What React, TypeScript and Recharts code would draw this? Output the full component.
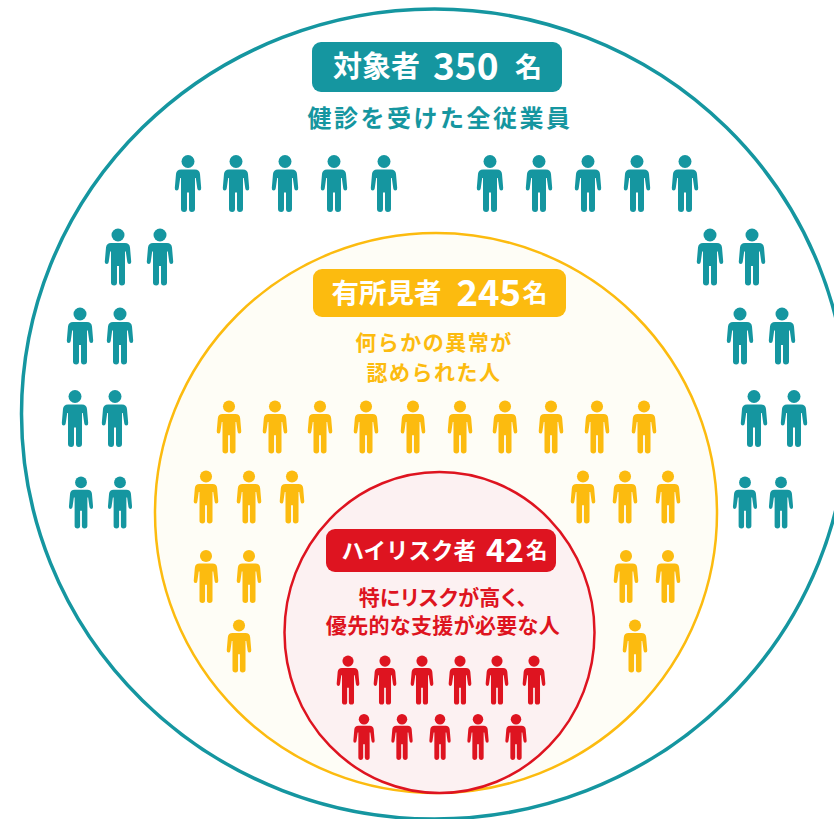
import { Scatter, ScatterChart, XAxis, YAxis } from "recharts";

const WIDTH = 834;
const HEIGHT = 819;
const FONT = '"Noto Sans CJK JP", "Noto Sans", sans-serif';

const outerRing = [{ x: 434.5, y: 414 }];
const middleRing = [{ x: 436, y: 513 }];
const innerRing = [{ x: 439.5, y: 632.5 }];

const row = (y: number, xs: number[]) => xs.map((x) => ({ x, y }));

const tealUpper = [
  ...row(183.5, [188, 236, 285, 334, 384, 490, 539, 588, 637, 685]),
  ...row(257, [118, 160, 710, 752]),
  ...row(336, [80, 120, 740, 782]),
  ...row(418.5, [75, 115, 754, 794]),
];
const tealLower = row(502.5, [81, 120, 745, 781]);
const yellowPeople = [
  ...row(427, [229, 275, 320, 366, 413, 460, 505, 551, 597, 644]),
  ...row(497, [206, 249, 292, 583, 625, 668]),
  ...row(576.5, [206, 249, 626, 668]),
  ...row(646, [239, 635]),
];
const redUpper = row(680, [348, 385, 422, 460, 497, 534]);
const redLower = row(737, [364, 402, 440, 478, 516]);

const tealTitle = ["対象者", "350", "名"];
const yellowTitle = ["有所見者", "245", "名"];
const redTitle = ["ハイリスク者", "42", "名"];
const tealNotes = ["健診を受けた全従業員"];
const yellowNotes = ["何らかの異常が", "認められた人"];
const redNotes = ["特にリスクが高く、", "優先的な支援が必要な人"];

const TEAL = "#1596a0";
const YELLOW = "#fcbb0f";
const RED = "#de1420";

const ringShape = (rx: number, ry: number, stroke: number, color: string, fill: string) => (p: any) => (
  <ellipse cx={p.cx} cy={p.cy} rx={rx} ry={ry} fill={fill} stroke={color} strokeWidth={stroke} />
);

const personShape = (h: number, color: string) => (p: any) => {
  const s = h / 57;
  return (
    <g transform={`translate(${p.cx},${p.cy - h / 2}) scale(${s})`} fill={color}>
      <circle cx={0} cy={6.5} r={6.5} />
      <path d="M-7 14.5L7 14.5Q11.5 14.5 12 19L13.2 33Q13.4 35.5 11.2 35.5Q9.6 35.5 9.3 33.5L7.8 23L7 23L7 54Q7 57 3.8 57Q1 57 1 54L1 37.5L-1 37.5L-1 54Q-1 57 -3.8 57Q-7 57 -7 54L-7 23L-7.8 23L-9.3 33.5Q-9.6 35.5 -11.2 35.5Q-13.4 35.5 -13.2 33L-12 19Q-11.5 14.5 -7 14.5Z" />
    </g>
  );
};

type TitleLayout = {
  w: number;
  h: number;
  color: string;
  parts: { dx: number; size: number; weight: number }[];
};

const titleShape = (texts: string[], l: TitleLayout) => (p: any) => (
  <g fontFamily={FONT}>
    <rect x={p.cx - l.w / 2} y={p.cy - l.h / 2} width={l.w} height={l.h} rx={9} fill={l.color} />
    {texts.map((t, i) => (
      <text
        key={t}
        x={p.cx + l.parts[i].dx}
        y={p.cy + l.parts[i].size * 0.36}
        fontSize={l.parts[i].size}
        fontWeight={l.parts[i].weight}
        fill="#fff"
      >
        {t}
      </text>
    ))}
  </g>
);

const notesShape =
  (texts: string[], color: string, size: number, gap: number, spacing: number, palt = false) =>
  (p: any) => (
    <g fontFamily={FONT}>
      {texts.map((t, i) => (
        <text
          key={t}
          x={p.cx}
          y={p.cy + i * gap + size * 0.36}
          fontSize={size}
          fontWeight={700}
          letterSpacing={spacing}
          textAnchor="middle"
          fill={color}
          style={palt && i === 0 ? { fontFeatureSettings: '"palt"' } : undefined}
        >
          {t}
        </text>
      ))}
    </g>
  );

const tealTitleAt = [{ x: 437, y: 67 }];
const yellowTitleAt = [{ x: 439.5, y: 293 }];
const redTitleAt = [{ x: 441, y: 550.5 }];
const tealNotesAt = [{ x: 440, y: 118 }];
const yellowNotesAt = [{ x: 434, y: 342 }];
const redNotesAt = [{ x: 443, y: 597 }];

export default function App() {
  return (
    <div style={{ position: "absolute", left: 0, top: 0, width: WIDTH, height: HEIGHT, background: "#fff" }}>
      <ScatterChart width={WIDTH} height={HEIGHT} margin={{ top: 0, right: 0, bottom: 0, left: 0 }}>
        <XAxis type="number" dataKey="x" domain={[0, WIDTH]} hide />
        <YAxis type="number" dataKey="y" domain={[0, HEIGHT]} reversed hide />
        <Scatter data={outerRing} isAnimationActive={false} shape={ringShape(413, 405, 3.5, TEAL, "#fff")} />
        <Scatter data={middleRing} isAnimationActive={false} shape={ringShape(281, 280, 2.5, YELLOW, "#fefdf6")} />
        <Scatter data={innerRing} isAnimationActive={false} shape={ringShape(155, 160.5, 2.5, RED, "#fcf1f2")} />
        <Scatter data={tealUpper} isAnimationActive={false} shape={personShape(57, TEAL)} />
        <Scatter data={tealLower} isAnimationActive={false} shape={personShape(52, TEAL)} />
        <Scatter data={yellowPeople} isAnimationActive={false} shape={personShape(53, YELLOW)} />
        <Scatter data={redUpper} isAnimationActive={false} shape={personShape(49, RED)} />
        <Scatter data={redLower} isAnimationActive={false} shape={personShape(46, RED)} />
        <Scatter
          data={tealTitleAt}
          isAnimationActive={false}
          shape={titleShape(tealTitle, {
            w: 250,
            h: 50,
            color: TEAL,
            parts: [
              { dx: -104, size: 29, weight: 700 },
              { dx: -4, size: 37, weight: 700 },
              { dx: 78, size: 27, weight: 700 },
            ],
          })}
        />
        <Scatter
          data={yellowTitleAt}
          isAnimationActive={false}
          shape={titleShape(yellowTitle, {
            w: 253,
            h: 48,
            color: YELLOW,
            parts: [
              { dx: -108, size: 27.5, weight: 700 },
              { dx: 17, size: 36.5, weight: 700 },
              { dx: 83, size: 25, weight: 700 },
            ],
          })}
        />
        <Scatter
          data={redTitleAt}
          isAnimationActive={false}
          shape={titleShape(redTitle, {
            w: 230,
            h: 43,
            color: RED,
            parts: [
              { dx: -99.5, size: 22.5, weight: 700 },
              { dx: 45, size: 32, weight: 700 },
              { dx: 85, size: 21.5, weight: 700 },
            ],
          })}
        />
        <Scatter data={tealNotesAt} isAnimationActive={false} shape={notesShape(tealNotes, TEAL, 24, 0, 2.5)} />
        <Scatter data={yellowNotesAt} isAnimationActive={false} shape={notesShape(yellowNotes, YELLOW, 21, 30, 1.5)} />
        <Scatter data={redNotesAt} isAnimationActive={false} shape={notesShape(redNotes, RED, 21, 28, 0.3, true)} />
      </ScatterChart>
    </div>
  );
}
